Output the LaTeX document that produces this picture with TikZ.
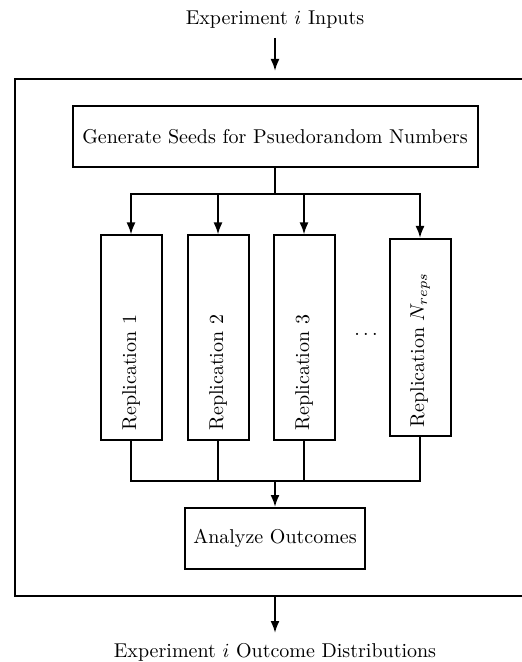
\documentclass[tikz,border=0pt]{standalone}
\usepackage{graphicx}
\usetikzlibrary{arrows.meta}
\begin{document}
\begin{tikzpicture}[x=0.5pt,y=-0.5pt,
  every node/.style={font=\normalsize},
  box/.style={draw,line width=1pt,inner sep=0pt,align=center},
  conn/.style={line width=1pt},
  arr/.style={line width=1pt,-{Latex[length=6pt,width=4.5pt]}},
  repbox/.style={draw,line width=1pt,inner sep=0pt,minimum width=30.5pt}
]
\clip (0,0) rectangle (522,662);
\useasboundingbox (0,0) rectangle (522,662);

\node (in) at (275,20) {Experiment $i$ Inputs};
\node[draw,line width=1pt,minimum width=260pt,minimum height=258.5pt] (frame) at (275,337.5) {};

\node[box,minimum width=202.5pt,minimum height=30.5pt] (gen) at (275,136.5) {Generate Seeds for Psuedorandom Numbers};

\node[repbox,minimum height=102pt] (r1) at (131,337.5) {\rotatebox{90}{\makebox[93pt][l]{Replication 1}}};
\node[repbox,minimum height=102pt] (r2) at (218,337.5) {\rotatebox{90}{\makebox[93pt][l]{Replication 2}}};
\node[repbox,minimum height=102pt] (r3) at (304,337.5) {\rotatebox{90}{\makebox[93pt][l]{Replication 3}}};
\node[repbox,minimum height=98.5pt] (rn) at (420,337.5) {\rotatebox{90}{\makebox[89.5pt][l]{Replication $N_{reps}$}}};
\node (dots) at (366,334) {$\dots$};

\node[box,minimum width=90pt,minimum height=30.5pt] (an) at (275,538.5) {Analyze Outcomes};

\node (out) at (275,652) {Experiment $i$ Outcome Distributions};

\coordinate (bus) at (275,194);
\coordinate (jn) at (275,481);
\coordinate (ftop) at (275,38);
\coordinate (fbot) at (275,633);

\draw[arr,shorten >=3.5pt] (ftop) -- (frame.north);
\draw[conn] (gen.south) -- (bus);
\draw[arr] (bus) -| (r1.north);
\draw[arr] (bus) -| (r2.north);
\draw[arr] (bus) -| (r3.north);
\draw[arr] (bus) -| (rn.north);
\draw[conn] (r1.south) |- (jn);
\draw[conn] (r2.south) |- (jn);
\draw[conn] (r3.south) |- (jn);
\draw[conn] (rn.south) |- (jn);
\draw[arr] (jn) -- (an.north);
\draw[arr] (frame.south) -- (fbot);
\end{tikzpicture}
\end{document}
